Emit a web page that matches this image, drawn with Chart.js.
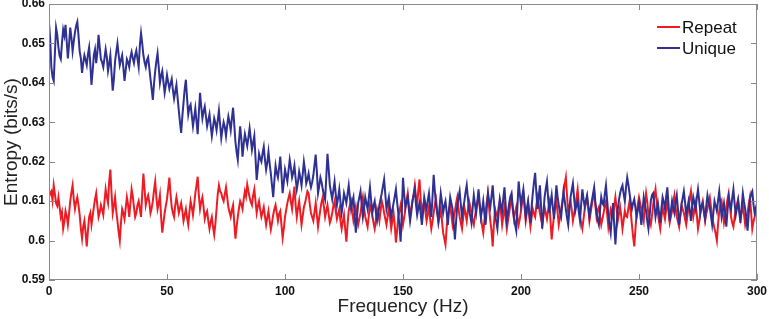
<!DOCTYPE html>
<html>
<head>
<meta charset="utf-8">
<script src="https://cdn.jsdelivr.net/npm/chart.js@4.4.0/dist/chart.umd.min.js"></script>
<style>
  html, body { margin: 0; padding: 0; background: #fff; }
  #wrap { width: 769px; height: 319px; position: relative; }
</style>
</head>
<body>
<div id="wrap"><canvas id="entropy-chart"></canvas></div>
<script>
/* ============================================================
   Entropy vs frequency — Repeat / Unique
============================================================ */

const FREQ_STEP = 0.5;   // Hz between samples
const X_TICKS = [0, 50, 100, 150, 200, 250, 300];
const Y_TICKS = [0.59, 0.60, 0.61, 0.62, 0.63, 0.64, 0.65, 0.66];

const SERIES_NAMES = ["Repeat", "Unique"];
const SERIES_COLORS = ["rgb(237, 28, 36)", "rgb(46, 49, 146)"];

// two values per Hz (n, n+0.5), 0..300
const REPEAT = [
    0.6110, 0.6120, 0.6125, 0.6102, 0.6140, 0.6118, 0.6095, 0.6088, 0.6110, 0.6085,
    0.6060, 0.6072, 0.6030, 0.6048, 0.6075, 0.6062, 0.6040, 0.6068, 0.6100, 0.6122,
    0.6140, 0.6105, 0.6080, 0.6098, 0.6110, 0.6090, 0.6065, 0.6030, 0.6005, 0.6035,
    0.6050, 0.6020, 0.5985, 0.6025, 0.6060, 0.6070, 0.6040, 0.6062, 0.6085, 0.6105,
    0.6120, 0.6088, 0.6060, 0.6072, 0.6090, 0.6078, 0.6065, 0.6098, 0.6130, 0.6110,
    0.6095, 0.6150, 0.6180, 0.6120, 0.6070, 0.6088, 0.6110, 0.6075, 0.6050, 0.6022,
    0.6000, 0.6045, 0.6080, 0.6070, 0.6055, 0.6082, 0.6110, 0.6092, 0.6060, 0.6095,
    0.6130, 0.6112, 0.6085, 0.6060, 0.6070, 0.6090, 0.6100, 0.6080, 0.6060, 0.6120,
    0.6170, 0.6130, 0.6090, 0.6105, 0.6115, 0.6098, 0.6070, 0.6082, 0.6100, 0.6128,
    0.6150, 0.6110, 0.6080, 0.6095, 0.6115, 0.6060, 0.6020, 0.6045, 0.6070, 0.6088,
    0.6105, 0.6132, 0.6160, 0.6118, 0.6085, 0.6070, 0.6060, 0.6090, 0.6110, 0.6092,
    0.6070, 0.6082, 0.6095, 0.6075, 0.6050, 0.6065, 0.6080, 0.6058, 0.6040, 0.6072,
    0.6100, 0.6085, 0.6065, 0.6090, 0.6120, 0.6140, 0.6162, 0.6115, 0.6080, 0.6098,
    0.6110, 0.6085, 0.6055, 0.6068, 0.6075, 0.6050, 0.6030, 0.6048, 0.6060, 0.6035,
    0.6015, 0.6042, 0.6080, 0.6118, 0.6140, 0.6125, 0.6120, 0.6108, 0.6100, 0.6118,
    0.6135, 0.6110, 0.6085, 0.6072, 0.6060, 0.6078, 0.6090, 0.6045, 0.6005, 0.6035,
    0.6060, 0.6082, 0.6100, 0.6092, 0.6080, 0.6105, 0.6125, 0.6112, 0.6142, 0.6125,
    0.6110, 0.6098, 0.6090, 0.6115, 0.6130, 0.6100, 0.6070, 0.6088, 0.6100, 0.6078,
    0.6060, 0.6072, 0.6085, 0.6062, 0.6040, 0.6058, 0.6075, 0.6050, 0.6028, 0.6045,
    0.6065, 0.6080, 0.6090, 0.6070, 0.6050, 0.6068, 0.6075, 0.6040, 0.6007, 0.6030,
    0.6060, 0.6078, 0.6095, 0.6108, 0.6120, 0.6098, 0.6080, 0.6110, 0.6137, 0.6090,
    0.6060, 0.6082, 0.6100, 0.6070, 0.6040, 0.6062, 0.6085, 0.6095, 0.6110, 0.6125,
    0.6120, 0.6092, 0.6070, 0.6060, 0.6050, 0.6072, 0.6095, 0.6065, 0.6035, 0.6058,
    0.6080, 0.6098, 0.6110, 0.6085, 0.6060, 0.6075, 0.6090, 0.6068, 0.6045, 0.6055,
    0.6070, 0.6088, 0.6100, 0.6075, 0.6055, 0.6068, 0.6080, 0.6050, 0.6030, 0.6048,
    0.6065, 0.6030, 0.5997, 0.6040, 0.6075, 0.6090, 0.6100, 0.6072, 0.6050, 0.6066,
    0.6085, 0.6060, 0.6040, 0.6055, 0.6070, 0.6092, 0.6110, 0.6082, 0.6060, 0.6048,
    0.6035, 0.6062, 0.6090, 0.6078, 0.6065, 0.6045, 0.6030, 0.6052, 0.6080, 0.6068,
    0.6050, 0.6075, 0.6100, 0.6088, 0.6070, 0.6055, 0.6040, 0.6062, 0.6085, 0.6058,
    0.6030, 0.6050, 0.6070, 0.6040, 0.5995, 0.6025, 0.6060, 0.6075, 0.6090, 0.6068,
    0.6040, 0.6058, 0.6080, 0.6102, 0.6120, 0.6088, 0.6060, 0.6082, 0.6100, 0.6118,
    0.6140, 0.6110, 0.6090, 0.6128, 0.6155, 0.6105, 0.6070, 0.6088, 0.6100, 0.6072,
    0.6050, 0.6068, 0.6085, 0.6055, 0.6030, 0.6048, 0.6070, 0.6092, 0.6105, 0.6075,
    0.6045, 0.6062, 0.6080, 0.6050, 0.6020, 0.6005, 0.5990, 0.6032, 0.6060, 0.6078,
    0.6090, 0.6065, 0.6040, 0.6058, 0.6075, 0.6095, 0.6110, 0.6082, 0.6060, 0.6045,
    0.6030, 0.6058, 0.6085, 0.6068, 0.6050, 0.6078, 0.6100, 0.6085, 0.6070, 0.6052,
    0.6040, 0.6062, 0.6080, 0.6098, 0.6110, 0.6085, 0.6060, 0.6038, 0.6020, 0.6050,
    0.6075, 0.6098, 0.6120, 0.6082, 0.6050, 0.6025, 0.5985, 0.6040, 0.6080, 0.6068,
    0.6060, 0.6085, 0.6100, 0.6072, 0.6040, 0.6062, 0.6085, 0.6058, 0.6030, 0.6052,
    0.6070, 0.6092, 0.6110, 0.6080, 0.6055, 0.6072, 0.6085, 0.6060, 0.6040, 0.6055,
    0.6075, 0.6098, 0.6120, 0.6085, 0.6050, 0.6072, 0.6095, 0.6062, 0.6035, 0.6058,
    0.6080, 0.6068, 0.6060, 0.6088, 0.6110, 0.6092, 0.6070, 0.6055, 0.6040, 0.6062,
    0.6085, 0.6070, 0.6055, 0.6078, 0.6095, 0.6050, 0.6003, 0.6035, 0.6065, 0.6085,
    0.6100, 0.6072, 0.6040, 0.6058, 0.6080, 0.6098, 0.6120, 0.6142, 0.6160, 0.6115,
    0.6070, 0.6088, 0.6100, 0.6078, 0.6050, 0.6068, 0.6085, 0.6108, 0.6130, 0.6092,
    0.6060, 0.6045, 0.6030, 0.6055, 0.6080, 0.6095, 0.6110, 0.6082, 0.6050, 0.6070,
    0.6090, 0.6108, 0.6125, 0.6090, 0.6060, 0.6078, 0.6085, 0.6062, 0.6040, 0.6055,
    0.6070, 0.6088, 0.6100, 0.6068, 0.6035, 0.6058, 0.6080, 0.6072, 0.6060, 0.6088,
    0.6110, 0.6082, 0.6050, 0.6068, 0.6085, 0.6060, 0.6030, 0.6052, 0.6075, 0.6062,
    0.6060, 0.6082, 0.6100, 0.6072, 0.6040, 0.6010, 0.5985, 0.6030, 0.6070, 0.6092,
    0.6110, 0.6095, 0.6080, 0.6065, 0.6050, 0.6088, 0.6120, 0.6098, 0.6065, 0.6052,
    0.6040, 0.6062, 0.6090, 0.6112, 0.6130, 0.6098, 0.6070, 0.6048, 0.6030, 0.6058,
    0.6085, 0.6070, 0.6055, 0.6078, 0.6100, 0.6072, 0.6045, 0.6060, 0.6075, 0.6098,
    0.6115, 0.6085, 0.6060, 0.6048, 0.6035, 0.6062, 0.6090, 0.6080, 0.6070, 0.6055,
    0.6040, 0.6062, 0.6085, 0.6108, 0.6125, 0.6090, 0.6060, 0.6078, 0.6095, 0.6065,
    0.6030, 0.6048, 0.6070, 0.6088, 0.6100, 0.6075, 0.6050, 0.6068, 0.6080, 0.6098,
    0.6110, 0.6085, 0.6060, 0.6045, 0.6030, 0.6018, 0.6000, 0.6042, 0.6075, 0.6090,
    0.6100, 0.6070, 0.6045, 0.6062, 0.6085, 0.6105, 0.6120, 0.6088, 0.6060, 0.6045,
    0.6035, 0.6058, 0.6080, 0.6092, 0.6105, 0.6078, 0.6055, 0.6072, 0.6090, 0.6065,
    0.6040, 0.6055, 0.6070, 0.6092, 0.6110, 0.6072, 0.6030, 0.6048, 0.6060, 0.6075,
    0.6080
];

const UNIQUE = [
    0.6552, 0.6510, 0.6440, 0.6415, 0.6405, 0.6475, 0.6540, 0.6522, 0.6490, 0.6468,
    0.6460, 0.6502, 0.6535, 0.6520, 0.6547, 0.6505, 0.6462, 0.6498, 0.6540, 0.6515,
    0.6480, 0.6505, 0.6528, 0.6545, 0.6555, 0.6520, 0.6480, 0.6462, 0.6425, 0.6450,
    0.6470, 0.6458, 0.6445, 0.6472, 0.6490, 0.6448, 0.6395, 0.6430, 0.6470, 0.6485,
    0.6450, 0.6478, 0.6522, 0.6490, 0.6460, 0.6452, 0.6440, 0.6462, 0.6485, 0.6465,
    0.6430, 0.6448, 0.6470, 0.6425, 0.6380, 0.6410, 0.6455, 0.6478, 0.6500, 0.6472,
    0.6445, 0.6458, 0.6470, 0.6440, 0.6405, 0.6432, 0.6460, 0.6452, 0.6440, 0.6465,
    0.6478, 0.6462, 0.6450, 0.6470, 0.6482, 0.6460, 0.6440, 0.6495, 0.6526, 0.6500,
    0.6470, 0.6452, 0.6440, 0.6458, 0.6465, 0.6438, 0.6410, 0.6385, 0.6357, 0.6398,
    0.6430, 0.6455, 0.6475, 0.6440, 0.6400, 0.6418, 0.6430, 0.6402, 0.6375, 0.6395,
    0.6420, 0.6402, 0.6385, 0.6398, 0.6410, 0.6382, 0.6360, 0.6378, 0.6395, 0.6362,
    0.6330, 0.6300, 0.6273, 0.6315, 0.6350, 0.6385, 0.6408, 0.6362, 0.6320, 0.6338,
    0.6345, 0.6318, 0.6290, 0.6312, 0.6335, 0.6302, 0.6270, 0.6325, 0.6375, 0.6340,
    0.6310, 0.6328, 0.6340, 0.6315, 0.6290, 0.6305, 0.6320, 0.6292, 0.6265, 0.6288,
    0.6310, 0.6298, 0.6280, 0.6305, 0.6330, 0.6295, 0.6260, 0.6282, 0.6300, 0.6288,
    0.6265, 0.6292, 0.6315, 0.6300, 0.6280, 0.6310, 0.6337, 0.6295, 0.6250, 0.6225,
    0.6205, 0.6252, 0.6290, 0.6258, 0.6213, 0.6245, 0.6270, 0.6255, 0.6240, 0.6262,
    0.6285, 0.6258, 0.6230, 0.6248, 0.6265, 0.6210, 0.6154, 0.6185, 0.6220, 0.6208,
    0.6200, 0.6222, 0.6238, 0.6205, 0.6180, 0.6198, 0.6225, 0.6195, 0.6170, 0.6140,
    0.6110, 0.6152, 0.6190, 0.6172, 0.6160, 0.6185, 0.6213, 0.6168, 0.6120, 0.6148,
    0.6180, 0.6165, 0.6150, 0.6178, 0.6205, 0.6185, 0.6160, 0.6172, 0.6190, 0.6158,
    0.6130, 0.6148, 0.6175, 0.6160, 0.6140, 0.6168, 0.6200, 0.6178, 0.6145, 0.6155,
    0.6170, 0.6150, 0.6135, 0.6148, 0.6165, 0.6192, 0.6218, 0.6175, 0.6120, 0.6138,
    0.6160, 0.6148, 0.6130, 0.6115, 0.6104, 0.6162, 0.6220, 0.6182, 0.6140, 0.6122,
    0.6105, 0.6128, 0.6150, 0.6118, 0.6090, 0.6108, 0.6130, 0.6098, 0.6070, 0.6092,
    0.6120, 0.6108, 0.6095, 0.6118, 0.6140, 0.6110, 0.6080, 0.6098, 0.6110, 0.6065,
    0.6020, 0.6058, 0.6095, 0.6110, 0.6125, 0.6092, 0.6060, 0.6082, 0.6110, 0.6095,
    0.6080, 0.6108, 0.6135, 0.6102, 0.6070, 0.6088, 0.6100, 0.6072, 0.6050, 0.6068,
    0.6090, 0.6105, 0.6120, 0.6138, 0.6155, 0.6118, 0.6080, 0.6095, 0.6110, 0.6082,
    0.6060, 0.6078, 0.6095, 0.6112, 0.6130, 0.6098, 0.6070, 0.6035, 0.5997, 0.6075,
    0.6159, 0.6118, 0.6085, 0.6098, 0.6110, 0.6078, 0.6050, 0.6072, 0.6100, 0.6115,
    0.6130, 0.6092, 0.6065, 0.6082, 0.6095, 0.6068, 0.6040, 0.6072, 0.6110, 0.6092,
    0.6080, 0.6102, 0.6120, 0.6088, 0.6060, 0.6110, 0.6167, 0.6125, 0.6090, 0.6070,
    0.6050, 0.6085, 0.6120, 0.6098, 0.6070, 0.6088, 0.6100, 0.6072, 0.6040, 0.6078,
    0.6110, 0.6095, 0.6080, 0.6042, 0.6003, 0.6048, 0.6090, 0.6108, 0.6125, 0.6092,
    0.6060, 0.6082, 0.6100, 0.6122, 0.6140, 0.6108, 0.6075, 0.6062, 0.6045, 0.6082,
    0.6115, 0.6092, 0.6070, 0.6098, 0.6130, 0.6095, 0.6060, 0.6078, 0.6100, 0.6068,
    0.6040, 0.6082, 0.6120, 0.6098, 0.6085, 0.6112, 0.6140, 0.6100, 0.6065, 0.6048,
    0.6030, 0.6068, 0.6105, 0.6088, 0.6075, 0.6108, 0.6135, 0.6090, 0.6050, 0.6072,
    0.6095, 0.6112, 0.6120, 0.6085, 0.6060, 0.6040, 0.6025, 0.6088, 0.6150, 0.6118,
    0.6090, 0.6112, 0.6130, 0.6095, 0.6060, 0.6082, 0.6100, 0.6072, 0.6045, 0.6085,
    0.6120, 0.6148, 0.6172, 0.6122, 0.6080, 0.6110, 0.6140, 0.6088, 0.6030, 0.6070,
    0.6110, 0.6132, 0.6150, 0.6108, 0.6070, 0.6095, 0.6115, 0.6082, 0.6055, 0.6098,
    0.6140, 0.6112, 0.6090, 0.6072, 0.6060, 0.6092, 0.6125, 0.6102, 0.6080, 0.6058,
    0.6040, 0.6078, 0.6110, 0.6128, 0.6145, 0.6108, 0.6075, 0.6090, 0.6100, 0.6072,
    0.6050, 0.6092, 0.6130, 0.6105, 0.6085, 0.6102, 0.6115, 0.6088, 0.6060, 0.6082,
    0.6100, 0.6118, 0.6135, 0.6098, 0.6070, 0.6052, 0.6040, 0.6078, 0.6110, 0.6095,
    0.6090, 0.6118, 0.6140, 0.6102, 0.6065, 0.6040, 0.6020, 0.6062, 0.6095, 0.6040,
    0.5990, 0.6038, 0.6080, 0.6102, 0.6120, 0.6132, 0.6140, 0.6118, 0.6100, 0.6135,
    0.6160, 0.6142, 0.6120, 0.6098, 0.6080, 0.6095, 0.6105, 0.6082, 0.6060, 0.6078,
    0.6095, 0.6068, 0.6040, 0.6075, 0.6110, 0.6092, 0.6075, 0.6050, 0.6030, 0.6062,
    0.6100, 0.6115, 0.6120, 0.6092, 0.6060, 0.6078, 0.6095, 0.6070, 0.6045, 0.6082,
    0.6110, 0.6098, 0.6080, 0.6110, 0.6135, 0.6092, 0.6050, 0.6075, 0.6100, 0.6082,
    0.6070, 0.6098, 0.6115, 0.6080, 0.6040, 0.6065, 0.6090, 0.6108, 0.6125, 0.6098,
    0.6065, 0.6082, 0.6100, 0.6078, 0.6050, 0.6085, 0.6110, 0.6095, 0.6080, 0.6108,
    0.6130, 0.6102, 0.6070, 0.6088, 0.6095, 0.6072, 0.6055, 0.6088, 0.6115, 0.6098,
    0.6085, 0.6062, 0.6040, 0.6070, 0.6100, 0.6088, 0.6075, 0.6102, 0.6125, 0.6092,
    0.6060, 0.6078, 0.6095, 0.6068, 0.6035, 0.6075, 0.6110, 0.6092, 0.6080, 0.6108,
    0.6130, 0.6095, 0.6065, 0.6082, 0.6100, 0.6072, 0.6045, 0.6085, 0.6120, 0.6098,
    0.6080, 0.6055, 0.6025, 0.6068, 0.6105, 0.6118, 0.6125, 0.6092, 0.6070, 0.6082,
    0.6095
];

const FONT = "'Liberation Sans', Arial, Helvetica, sans-serif";

function toPoints(values) {
    return values.map((v, i) => ({ x: i * FREQ_STEP, y: v }));
}

function fmtTick(v) {
    return String(Number(v.toFixed(2)));
}

/* Matlab-style box, inward ticks on all four sides, legend */
const matlabBox = {
    id: "matlabBox",
    afterDraw(chart) {
        const { ctx, chartArea: a, scales: { x, y } } = chart;
        ctx.save();
        ctx.strokeStyle = "#8a8a8a";
        ctx.lineWidth = 1;
        ctx.strokeRect(a.left + 0.5, a.top + 0.5, a.right - a.left - 1, a.bottom - a.top - 1);

        ctx.beginPath();
        for (const v of X_TICKS) {
            const px = Math.round(x.getPixelForValue(v)) + 0.5;
            ctx.moveTo(px, a.bottom); ctx.lineTo(px, a.bottom - 6);
            ctx.moveTo(px, a.top);    ctx.lineTo(px, a.top + 6);
        }
        for (const v of Y_TICKS) {
            const py = Math.round(y.getPixelForValue(v)) + 0.5;
            ctx.moveTo(a.left, py);  ctx.lineTo(a.left + 6, py);
            ctx.moveTo(a.right, py); ctx.lineTo(a.right - 6, py);
        }
        ctx.stroke();

        // legend, top right inside the axes
        ctx.font = "17px " + FONT;
        ctx.textBaseline = "middle";
        ctx.textAlign = "left";
        ctx.lineWidth = 2;
        const x0 = a.right - 100;
        SERIES_NAMES.forEach((name, i) => {
            const ly = a.top + 23 + i * 21;
            ctx.strokeStyle = SERIES_COLORS[i];
            ctx.beginPath();
            ctx.moveTo(x0, ly);
            ctx.lineTo(x0 + 23, ly);
            ctx.stroke();
            ctx.fillStyle = "#111";
            ctx.fillText(name, x0 + 25, ly + 1);
        });
        ctx.restore();
    }
};

const ctx = document.getElementById("entropy-chart");

new Chart(ctx, {
    type: "line",
    data: {
        datasets: [
            {
                label: SERIES_NAMES[0],
                data: toPoints(REPEAT),
                borderColor: SERIES_COLORS[0],
                borderWidth: 2,
                pointRadius: 0,
                tension: 0,
                order: 1
            },
            {
                label: SERIES_NAMES[1],
                data: toPoints(UNIQUE),
                borderColor: SERIES_COLORS[1],
                borderWidth: 2,
                pointRadius: 0,
                tension: 0,
                order: 0
            }
        ]
    },
    options: {
        responsive: true,
        maintainAspectRatio: false,
        animation: false,
        layout: { padding: { top: 4, right: 12, left: 0, bottom: 0 } },
        plugins: {
            legend: { display: false },
            tooltip: { enabled: false }
        },
        scales: {
            x: {
                type: "linear",
                min: 0,
                max: 300,
                afterBuildTicks: s => { s.ticks = X_TICKS.map(v => ({ value: v })); },
                afterFit: s => { s.height = 39; s.paddingLeft = 0; s.paddingRight = 0; },
                grid: { display: false, drawTicks: false },
                border: { display: false },
                ticks: {
                    color: "#111",
                    padding: 4,
                    maxRotation: 0,
                    font: { family: FONT, size: 12, weight: "bold" },
                    callback: v => fmtTick(v)
                },
                title: {
                    display: true,
                    text: "Frequency (Hz)",
                    color: "#222",
                    padding: { top: 0, bottom: 1 },
                    font: { family: FONT, size: 19 }
                }
            },
            y: {
                min: 0.59,
                max: 0.66,
                afterBuildTicks: s => { s.ticks = Y_TICKS.map(v => ({ value: v })); },
                afterFit: s => { s.width = 49; s.paddingTop = 0; s.paddingBottom = 0; },
                grid: { display: false, drawTicks: false },
                border: { display: false },
                ticks: {
                    color: "#111",
                    padding: 4,
                    font: { family: FONT, size: 12, weight: "bold" },
                    callback: v => fmtTick(v)
                },
                title: {
                    display: true,
                    text: "Entropy (bits/s)",
                    color: "#222",
                    padding: { top: 0, bottom: 0 },
                    font: { family: FONT, size: 19 }
                }
            }
        }
    },
    plugins: [matlabBox]
});
</script>
</body>
</html>
